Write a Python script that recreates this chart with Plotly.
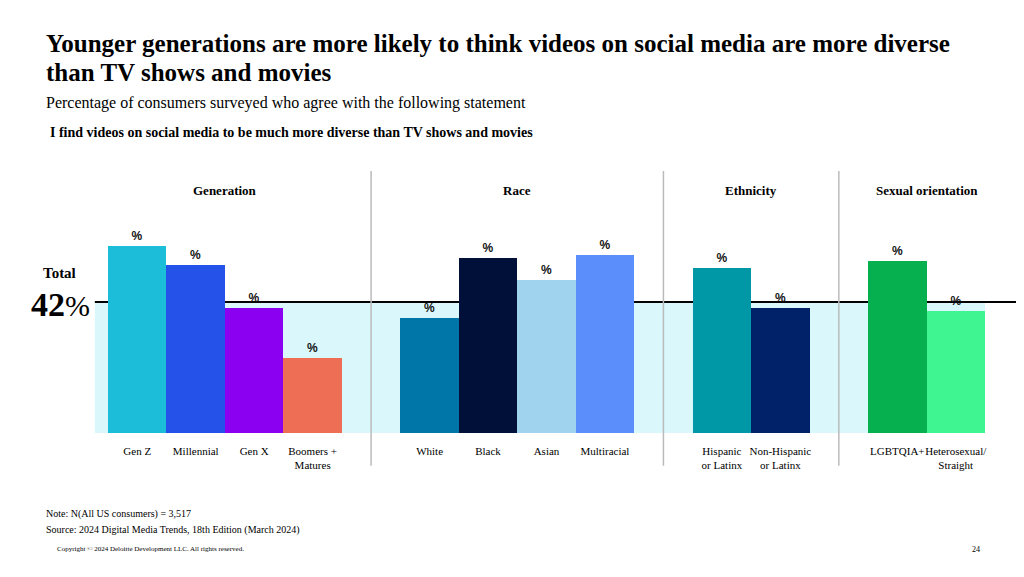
import plotly.graph_objects as go

categories = ["Gen Z", "Millennial", "Gen X", "Boomers +<br>Matures", " ",
              "White", "Black", "Asian", "Multiracial", "  ",
              "Hispanic<br>or Latinx", "Non-Hispanic<br>or Latinx", "   ",
              "LGBTQIA+", "Heterosexual/<br>Straight"]
values = [60, 54, 40, 24, None, 37, 56, 49, 57, None, 53, 40, None, 55, 39]
colors = ["#1BBDD9", "#2553EA", "#8B00F0", "#EE6E55", "rgba(0,0,0,0)",
          "#0076A8", "#001038", "#A0D4EE", "#5C8EFB", "rgba(0,0,0,0)",
          "#0097A7", "#012169", "rgba(0,0,0,0)", "#07B04E", "#3EF592"]
groups = [("Generation", 1.5), ("Race", 6.5), ("Ethnicity", 10.5), ("Sexual orientation", 13.5)]
separators = [4, 9, 12]
total = 42

OFF = 8  # page body margin
L, R, T, B = 108 - OFF, 39 + OFF, 199 - OFF, 144 + OFF
W, H = 1024 - L - R, 577 - T - B

serif = "Liberation Serif, Times New Roman, serif"
fig = go.Figure(go.Bar(
    x=list(range(len(categories))), y=values, marker_color=colors,
    marker_line_width=0,
    text=["<b>%</b>" if v is not None else "" for v in values], textposition="outside",
    textfont=dict(family="Liberation Sans, Arial", size=12, color="#111"),
    cliponaxis=False))

fig.add_shape(type="rect", xref="paper", yref="y", x0=-0.015, x1=1.0, y0=0, y1=total,
              fillcolor="#DAF8FB", line_width=0, layer="below")
fig.add_shape(type="line", xref="paper", yref="y", x0=-0.015, x1=1.04, y0=total, y1=total,
              line=dict(color="black", width=2), layer="below")
for s in separators:
    fig.add_shape(type="line", xref="x", yref="paper", x0=s, x1=s, y0=-0.14, y1=1.12,
                  line=dict(color="#BBBBBB", width=1.5))

def ptxt(px, py, t, size, xa="left", xref="paper", xv=None):
    fig.add_annotation(x=(px - 108) / W if xv is None else xv,
                       y=(577 - 144 - py) / H, xref=xref, yref="paper",
                       text=t, showarrow=False, xanchor=xa, yanchor="middle",
                       font=dict(family=serif, size=size, color="black"))

for name, pos in groups:
    ptxt(0, 191, f"<b>{name}</b>", 13, xa="center", xref="x", xv=pos)

ptxt(44, 44, "<b>Younger generations are more likely to think videos on social media are more diverse</b>", 25)
ptxt(44, 73, "<b>than TV shows and movies</b>", 25)
ptxt(44, 103, "Percentage of consumers surveyed who agree with the following statement", 16)
ptxt(48, 133, "<b>I find videos on social media to be much more diverse than TV shows and movies</b>", 14)
ptxt(59, 273, "<b>Total</b>", 15, xa="center")
ptxt(60, 304, f"<b>{total}</b><span style='font-size:30px'>%</span>", 34, xa="center")
ptxt(44, 514, "Note: N(All US consumers) = 3,517", 10)
ptxt(44, 530, "Source: 2024 Digital Media Trends, 18th Edition (March 2024)", 10)
ptxt(55, 549, "Copyright © 2024 Deloitte Development LLC. All rights reserved.", 7)
ptxt(982, 549, "24", 8, xa="right")

fig.update_layout(
    width=1024, height=577, plot_bgcolor="white", paper_bgcolor="white",
    margin=dict(l=L, r=R, t=T, b=B), bargap=0, showlegend=False,
    font=dict(family=serif, color="black"),
    xaxis=dict(tickmode="array", tickvals=list(range(len(categories))), ticktext=categories,
               range=[-0.5, len(categories) - 0.5], showgrid=False, zeroline=False,
               tickfont=dict(family=serif, size=11), ticks="", tickangle=0,
               ticklabelstandoff=10),
    yaxis=dict(range=[0, 75], visible=False),
)

fig.write_html("out.html")
